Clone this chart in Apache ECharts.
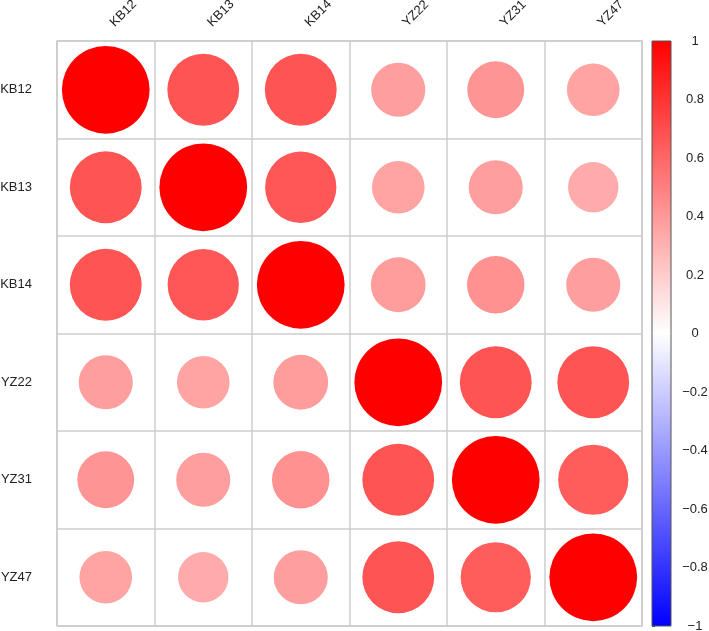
<!DOCTYPE html>
<html>
<head>
<meta charset="utf-8">
<script src="https://cdn.jsdelivr.net/npm/echarts@6/dist/echarts.min.js"></script>
<style>
  html, body { margin: 0; padding: 0; background: #fff; }
  #corrChart { width: 709px; height: 631px; }
</style>
</head>
<body>
<div id="corrChart"></div>
<script>
// variables, in plotting order
const labels = ['KB12', 'KB13', 'KB14', 'YZ22', 'YZ31', 'YZ47']

// correlation rows
const rowKB12 = [1.00, 0.67, 0.67, 0.38, 0.42, 0.36]
const rowKB13 = [0.67, 1.00, 0.66, 0.36, 0.38, 0.33]
const rowKB14 = [0.67, 0.66, 1.00, 0.39, 0.43, 0.38]
const rowYZ22 = [0.38, 0.36, 0.39, 1.00, 0.67, 0.67]
const rowYZ31 = [0.42, 0.38, 0.43, 0.67, 1.00, 0.64]
const rowYZ47 = [0.36, 0.33, 0.38, 0.67, 0.64, 1.00]
const corrRows = [rowKB12, rowKB13, rowKB14, rowYZ22, rowYZ31, rowYZ47]

// colour bar range and ticks
const cbMin = -1
const cbMax = 1
const cbStep = 0.2

const gridLeft = 57, gridTop = 41, gridSize = 585
const cell = gridSize / labels.length

const points = []
corrRows.forEach((row, r) => {
  row.forEach((v, c) => { points.push([c, r, v]) })
})

const fmt = v => {
  const n = Math.round(v * 10) / 10
  return n === 0 ? '0' : String(n).replace('-', '\u2212')
}

const myChart = echarts.init(document.getElementById('corrChart'))
myChart.setOption({
  animation: false,
  textStyle: { fontFamily: 'Liberation Sans, Arial, sans-serif' },
  grid: [
    { left: gridLeft, top: gridTop, width: gridSize, height: gridSize,
      outerBoundsMode: 'none', containLabel: false,
      show: true, borderColor: '#cccccc', borderWidth: 1.5 },
    { left: 652, top: gridTop, width: 19, height: gridSize,
      outerBoundsMode: 'none', containLabel: false }
  ],
  visualMap: {
    show: false,
    type: 'continuous',
    min: cbMin,
    max: cbMax,
    dimension: 2,
    seriesIndex: 0,
    inRange: { color: ['#0000ff', '#ffffff', '#ff0000'] }
  },
  xAxis: [{
    gridIndex: 0,
    type: 'category',
    data: labels,
    position: 'top',
    boundaryGap: true,
    axisLine: { show: false },
    axisTick: { show: false },
    axisLabel: { rotate: -45, margin: 10, padding: [0, 0, 0, 9], fontSize: 13, color: '#222' },
    splitLine: { show: true, interval: 0, lineStyle: { color: '#cccccc', width: 1.5 } }
  }, {
    gridIndex: 1,
    type: 'value',
    min: 0,
    max: 1,
    show: false
  }],
  yAxis: [{
    gridIndex: 0,
    type: 'category',
    data: labels,
    inverse: true,
    boundaryGap: true,
    axisLine: { show: false },
    axisTick: { show: false },
    axisLabel: { margin: 25, fontSize: 13, color: '#222' },
    splitLine: { show: true, interval: 0, lineStyle: { color: '#cccccc', width: 1.5 } }
  }, {
    gridIndex: 1,
    type: 'value',
    position: 'right',
    min: cbMin,
    max: cbMax,
    interval: cbStep,
    axisLine: { show: false },
    axisTick: { show: true, length: 3, lineStyle: { color: '#555' } },
    splitLine: { show: false },
    axisLabel: { align: 'center', margin: 24, fontSize: 13, color: '#222', formatter: fmt }
  }],
  series: [{
    type: 'scatter',
    xAxisIndex: 0,
    yAxisIndex: 0,
    data: points,
    symbol: 'circle',
    symbolSize: val => cell * 0.9 * Math.sqrt(Math.abs(val[2])),
    itemStyle: { opacity: 1 },
    emphasis: { disabled: true }
  }, {
    type: 'scatter',
    xAxisIndex: 1,
    yAxisIndex: 1,
    data: [],
    silent: true,
    markArea: {
      silent: true,
      itemStyle: {
        opacity: 1,
        color: {
          type: 'linear', x: 0, y: 0, x2: 0, y2: 1,
          colorStops: [
            { offset: 0, color: '#ff0000' },
            { offset: 0.5, color: '#ffffff' },
            { offset: 1, color: '#0000ff' }
          ]
        },
        borderColor: '#555',
        borderWidth: 1
      },
      data: [[{ xAxis: 0, yAxis: cbMax }, { xAxis: 1, yAxis: cbMin }]]
    }
  }]
})
</script>
</body>
</html>
